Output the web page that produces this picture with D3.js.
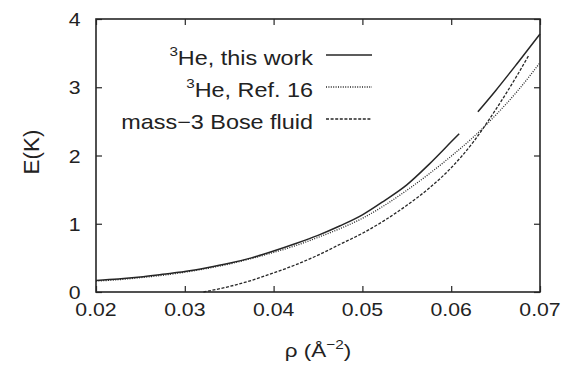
<!DOCTYPE html>
<html>
<head>
<meta charset="utf-8">
<script src="https://cdn.jsdelivr.net/npm/d3@7/dist/d3.min.js"></script>
<style>
  html, body { margin: 0; padding: 0; background: #fff; }
  svg { display: block; }
  text { font-family: "Liberation Sans", Arial, Helvetica, sans-serif; fill: #222; }
</style>
</head>
<body>
<svg id="chart" width="577" height="369"></svg>
<script>
// Energy per particle E (K) versus areal density rho (Å^-2)

// 3He, this work (null marks the break in the curve)
const thisWorkRho = [0.020, 0.0225, 0.025, 0.0275, 0.030, 0.0325, 0.035, 0.0375, 0.040, 0.0425, 0.045, 0.0475, 0.050, 0.0525, 0.055, 0.0575, 0.060, 0.0609, 0.062, 0.063, 0.065, 0.0675, 0.070];
const thisWorkE   = [0.17, 0.19, 0.22, 0.26, 0.30, 0.355, 0.42, 0.50, 0.60, 0.71, 0.83, 0.97, 1.13, 1.34, 1.57, 1.87, 2.20, 2.32, null, 2.64, 2.95, 3.36, 3.78];

// 3He, Ref. 16
const ref16Rho = [0.020, 0.0225, 0.025, 0.0275, 0.030, 0.0325, 0.035, 0.0375, 0.040, 0.0425, 0.045, 0.0475, 0.050, 0.0525, 0.055, 0.0575, 0.060, 0.0625, 0.065, 0.0675, 0.070];
const ref16E   = [0.16, 0.18, 0.21, 0.245, 0.29, 0.345, 0.41, 0.49, 0.58, 0.68, 0.80, 0.93, 1.08, 1.27, 1.49, 1.73, 1.99, 2.27, 2.59, 2.95, 3.36];

// mass-3 Bose fluid
const boseRho = [0.0321, 0.035, 0.0375, 0.040, 0.0425, 0.045, 0.0475, 0.050, 0.0525, 0.055, 0.0575, 0.060, 0.0625, 0.065, 0.0675, 0.0687];
const boseE   = [0.00, 0.08, 0.17, 0.28, 0.40, 0.54, 0.70, 0.86, 1.05, 1.27, 1.52, 1.82, 2.20, 2.67, 3.19, 3.46];

const xTicks = [0.02, 0.03, 0.04, 0.05, 0.06, 0.07];
const yTicks = [0, 1, 2, 3, 4];

const legendLabels = [
  { sup: "3", text: "He, this work" },
  { sup: "3", text: "He, Ref. 16" },
  { sup: "", text: "mass\u22123 Bose fluid" }
];
const dashStyles = [null, "1,1.4", "3,1.6"];
const strokeWidths = [1.5, 1.3, 1.3];

const mLeft = 96, mRight = 540, mTop = 19, mBottom = 292;
const ink = "#262626";
const stretch = 1.18;

const svg = d3.select("#chart");

const x = d3.scaleLinear().domain([0.02, 0.07]).range([mLeft, mRight]);
const y = d3.scaleLinear().domain([0, 4]).range([mBottom, mTop]);

const series = [
  thisWorkRho.map((r, i) => ({ r, e: thisWorkE[i] })),
  ref16Rho.map((r, i) => ({ r, e: ref16E[i] })),
  boseRho.map((r, i) => ({ r, e: boseE[i] }))
];

// curves
const line = d3.line()
  .defined(d => d.e !== null)
  .x(d => x(d.r))
  .y(d => y(d.e))
  .curve(d3.curveMonotoneX);

const plot = svg.append("g");
series.forEach((s, i) => {
  plot.append("path")
    .datum(s)
    .attr("d", line)
    .attr("fill", "none")
    .attr("stroke", ink)
    .attr("stroke-width", strokeWidths[i])
    .attr("stroke-dasharray", dashStyles[i]);
});

// axes with inward ticks, mirrored on all sides
const fmtX = d3.format(".2f");
const axB = svg.append("g").attr("transform", `translate(0,${mBottom})`)
  .call(d3.axisBottom(x).tickValues(xTicks).tickSizeInner(-6).tickSizeOuter(0).tickFormat(""));
const axT = svg.append("g").attr("transform", `translate(0,${mTop})`)
  .call(d3.axisTop(x).tickValues(xTicks).tickSizeInner(-6).tickSizeOuter(0).tickFormat(""));
const axL = svg.append("g").attr("transform", `translate(${mLeft},0)`)
  .call(d3.axisLeft(y).tickValues(yTicks).tickSizeInner(-6).tickSizeOuter(0).tickFormat(""));
const axR = svg.append("g").attr("transform", `translate(${mRight},0)`)
  .call(d3.axisRight(y).tickValues(yTicks).tickSizeInner(-6).tickSizeOuter(0).tickFormat(""));
[axB, axT, axL, axR].forEach(a => {
  a.select(".domain").remove();
  a.selectAll("line").attr("stroke", ink).attr("stroke-width", 1.2);
});

// frame
svg.append("rect")
  .attr("x", mLeft).attr("y", mTop)
  .attr("width", mRight - mLeft).attr("height", mBottom - mTop)
  .attr("fill", "none").attr("stroke", ink).attr("stroke-width", 1.6);

// tick labels
svg.append("g").selectAll("text").data(xTicks).join("text")
  .attr("transform", d => `translate(${x(d)},${316}) scale(${stretch},1)`)
  .attr("text-anchor", "middle")
  .attr("font-size", 18)
  .text(d => fmtX(d));

svg.append("g").selectAll("text").data(yTicks).join("text")
  .attr("transform", d => `translate(${80.5},${y(d) + 7}) scale(${stretch},1)`)
  .attr("text-anchor", "end")
  .attr("font-size", 18)
  .text(d => d);

// axis titles
svg.append("text")
  .attr("transform", `translate(${39},${152}) rotate(-90) scale(1.12,1.1)`)
  .attr("text-anchor", "middle")
  .attr("font-size", 20)
  .text("E(K)");

const xt = svg.append("text")
  .attr("transform", `translate(${(mLeft + mRight) / 2},${357}) scale(${stretch},1)`)
  .attr("text-anchor", "middle")
  .attr("font-size", 19);
xt.append("tspan").text("\u03C1 (\u00C5");
xt.append("tspan").attr("font-size", 13).attr("dy", -8).text("\u22122");
xt.append("tspan").attr("dy", 8).text(")");

// legend
const legend = svg.append("g");
legendLabels.forEach((d, i) => {
  const base = 65 + i * 32;
  const t = legend.append("text")
    .attr("transform", `translate(${313},${base}) scale(1.17,1)`)
    .attr("text-anchor", "end")
    .attr("font-size", 20);
  if (d.sup) {
    t.append("tspan").attr("font-size", 13).attr("dy", -9).text(d.sup);
    t.append("tspan").attr("dy", 9).text(d.text);
  } else {
    t.append("tspan").text(d.text);
  }
  legend.append("line")
    .attr("x1", 326).attr("x2", 372)
    .attr("y1", base - 10).attr("y2", base - 10)
    .attr("stroke", ink)
    .attr("stroke-width", strokeWidths[i])
    .attr("stroke-dasharray", dashStyles[i]);
});
</script>
</body>
</html>
